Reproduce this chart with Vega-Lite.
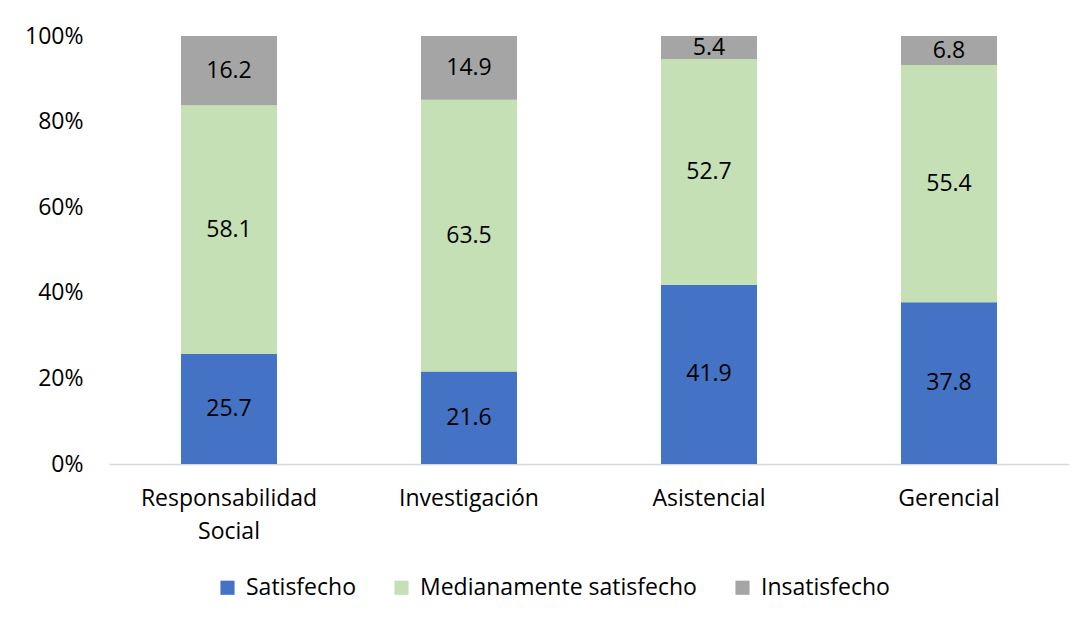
{
  "$schema": "https://vega.github.io/schema/vega-lite/v6.json",
  "autosize": "none",
  "width": 960,
  "height": 428,
  "padding": {"left": 109, "top": 36, "right": 22, "bottom": 159},
  "background": "white",
  "config": {
    "font": "Open Sans",
    "view": {"stroke": null}
  },
  "data": {
    "values": [
      {"cat": "Responsabilidad Social", "nivel": "Satisfecho", "valor": 25.7},
      {"cat": "Responsabilidad Social", "nivel": "Medianamente satisfecho", "valor": 58.1},
      {"cat": "Responsabilidad Social", "nivel": "Insatisfecho", "valor": 16.2},
      {"cat": "Investigación", "nivel": "Satisfecho", "valor": 21.6},
      {"cat": "Investigación", "nivel": "Medianamente satisfecho", "valor": 63.5},
      {"cat": "Investigación", "nivel": "Insatisfecho", "valor": 14.9},
      {"cat": "Asistencial", "nivel": "Satisfecho", "valor": 41.9},
      {"cat": "Asistencial", "nivel": "Medianamente satisfecho", "valor": 52.7},
      {"cat": "Asistencial", "nivel": "Insatisfecho", "valor": 5.4},
      {"cat": "Gerencial", "nivel": "Satisfecho", "valor": 37.8},
      {"cat": "Gerencial", "nivel": "Medianamente satisfecho", "valor": 55.4},
      {"cat": "Gerencial", "nivel": "Insatisfecho", "valor": 6.8}
    ]
  },
  "transform": [
    {"stack": "valor", "groupby": ["cat"], "sort": [{"field": "nivel", "order": "descending"}], "as": ["y0", "y1"]},
    {"calculate": "(datum.y0 + datum.y1) / 2", "as": "ymid"}
  ],
  "encoding": {
    "x": {
      "field": "cat",
      "type": "nominal",
      "sort": ["Responsabilidad Social", "Investigación", "Asistencial", "Gerencial"],
      "scale": {"paddingInner": 0.6, "paddingOuter": 0.3},
      "axis": {
        "title": null,
        "labelAngle": 0,
        "labelFontSize": 23,
        "labelColor": "#000000",
        "labelPadding": 23,
        "labelLineHeight": 33,
        "labelBaseline": "top",
        "labelLimit": 400,
        "ticks": false,
        "domainColor": "#d9d9d9",
        "domainWidth": 1.5,
        "labelExpr": "datum.value == 'Responsabilidad Social' ? ['Responsabilidad', 'Social'] : datum.value"
      }
    }
  },
  "layer": [
    {
      "mark": {"type": "bar"},
      "encoding": {
        "y": {
          "field": "y0",
          "type": "quantitative",
          "scale": {"domain": [0, 100], "nice": false},
          "axis": {
            "title": null,
            "values": [0, 20, 40, 60, 80, 100],
            "labelExpr": "datum.value + '%'",
            "labelFontSize": 23,
            "labelColor": "#000000",
            "labelPadding": 26,
            "ticks": false,
            "domain": false,
            "grid": false
          }
        },
        "y2": {"field": "y1"},
        "color": {
          "field": "nivel",
          "type": "nominal",
          "scale": {
            "domain": ["Satisfecho", "Medianamente satisfecho", "Insatisfecho"],
            "range": ["#4472C4", "#C5E0B4", "#A5A5A5"]
          },
          "legend": {
            "title": null,
            "orient": "none",
            "direction": "horizontal",
            "legendX": 107,
            "legendY": 540,
            "symbolType": "square",
            "symbolSize": 200,
            "symbolStrokeWidth": 0,
            "labelFontSize": 23,
            "labelColor": "#000000",
            "labelOffset": 7,
            "labelLimit": 400,
            "columnPadding": 34
          }
        }
      }
    },
    {
      "mark": {"type": "text", "fontSize": 23, "color": "#000000", "baseline": "middle", "align": "center"},
      "encoding": {
        "y": {"field": "ymid", "type": "quantitative"},
        "text": {"field": "valor", "type": "quantitative", "format": ".1f"}
      }
    }
  ]
}
